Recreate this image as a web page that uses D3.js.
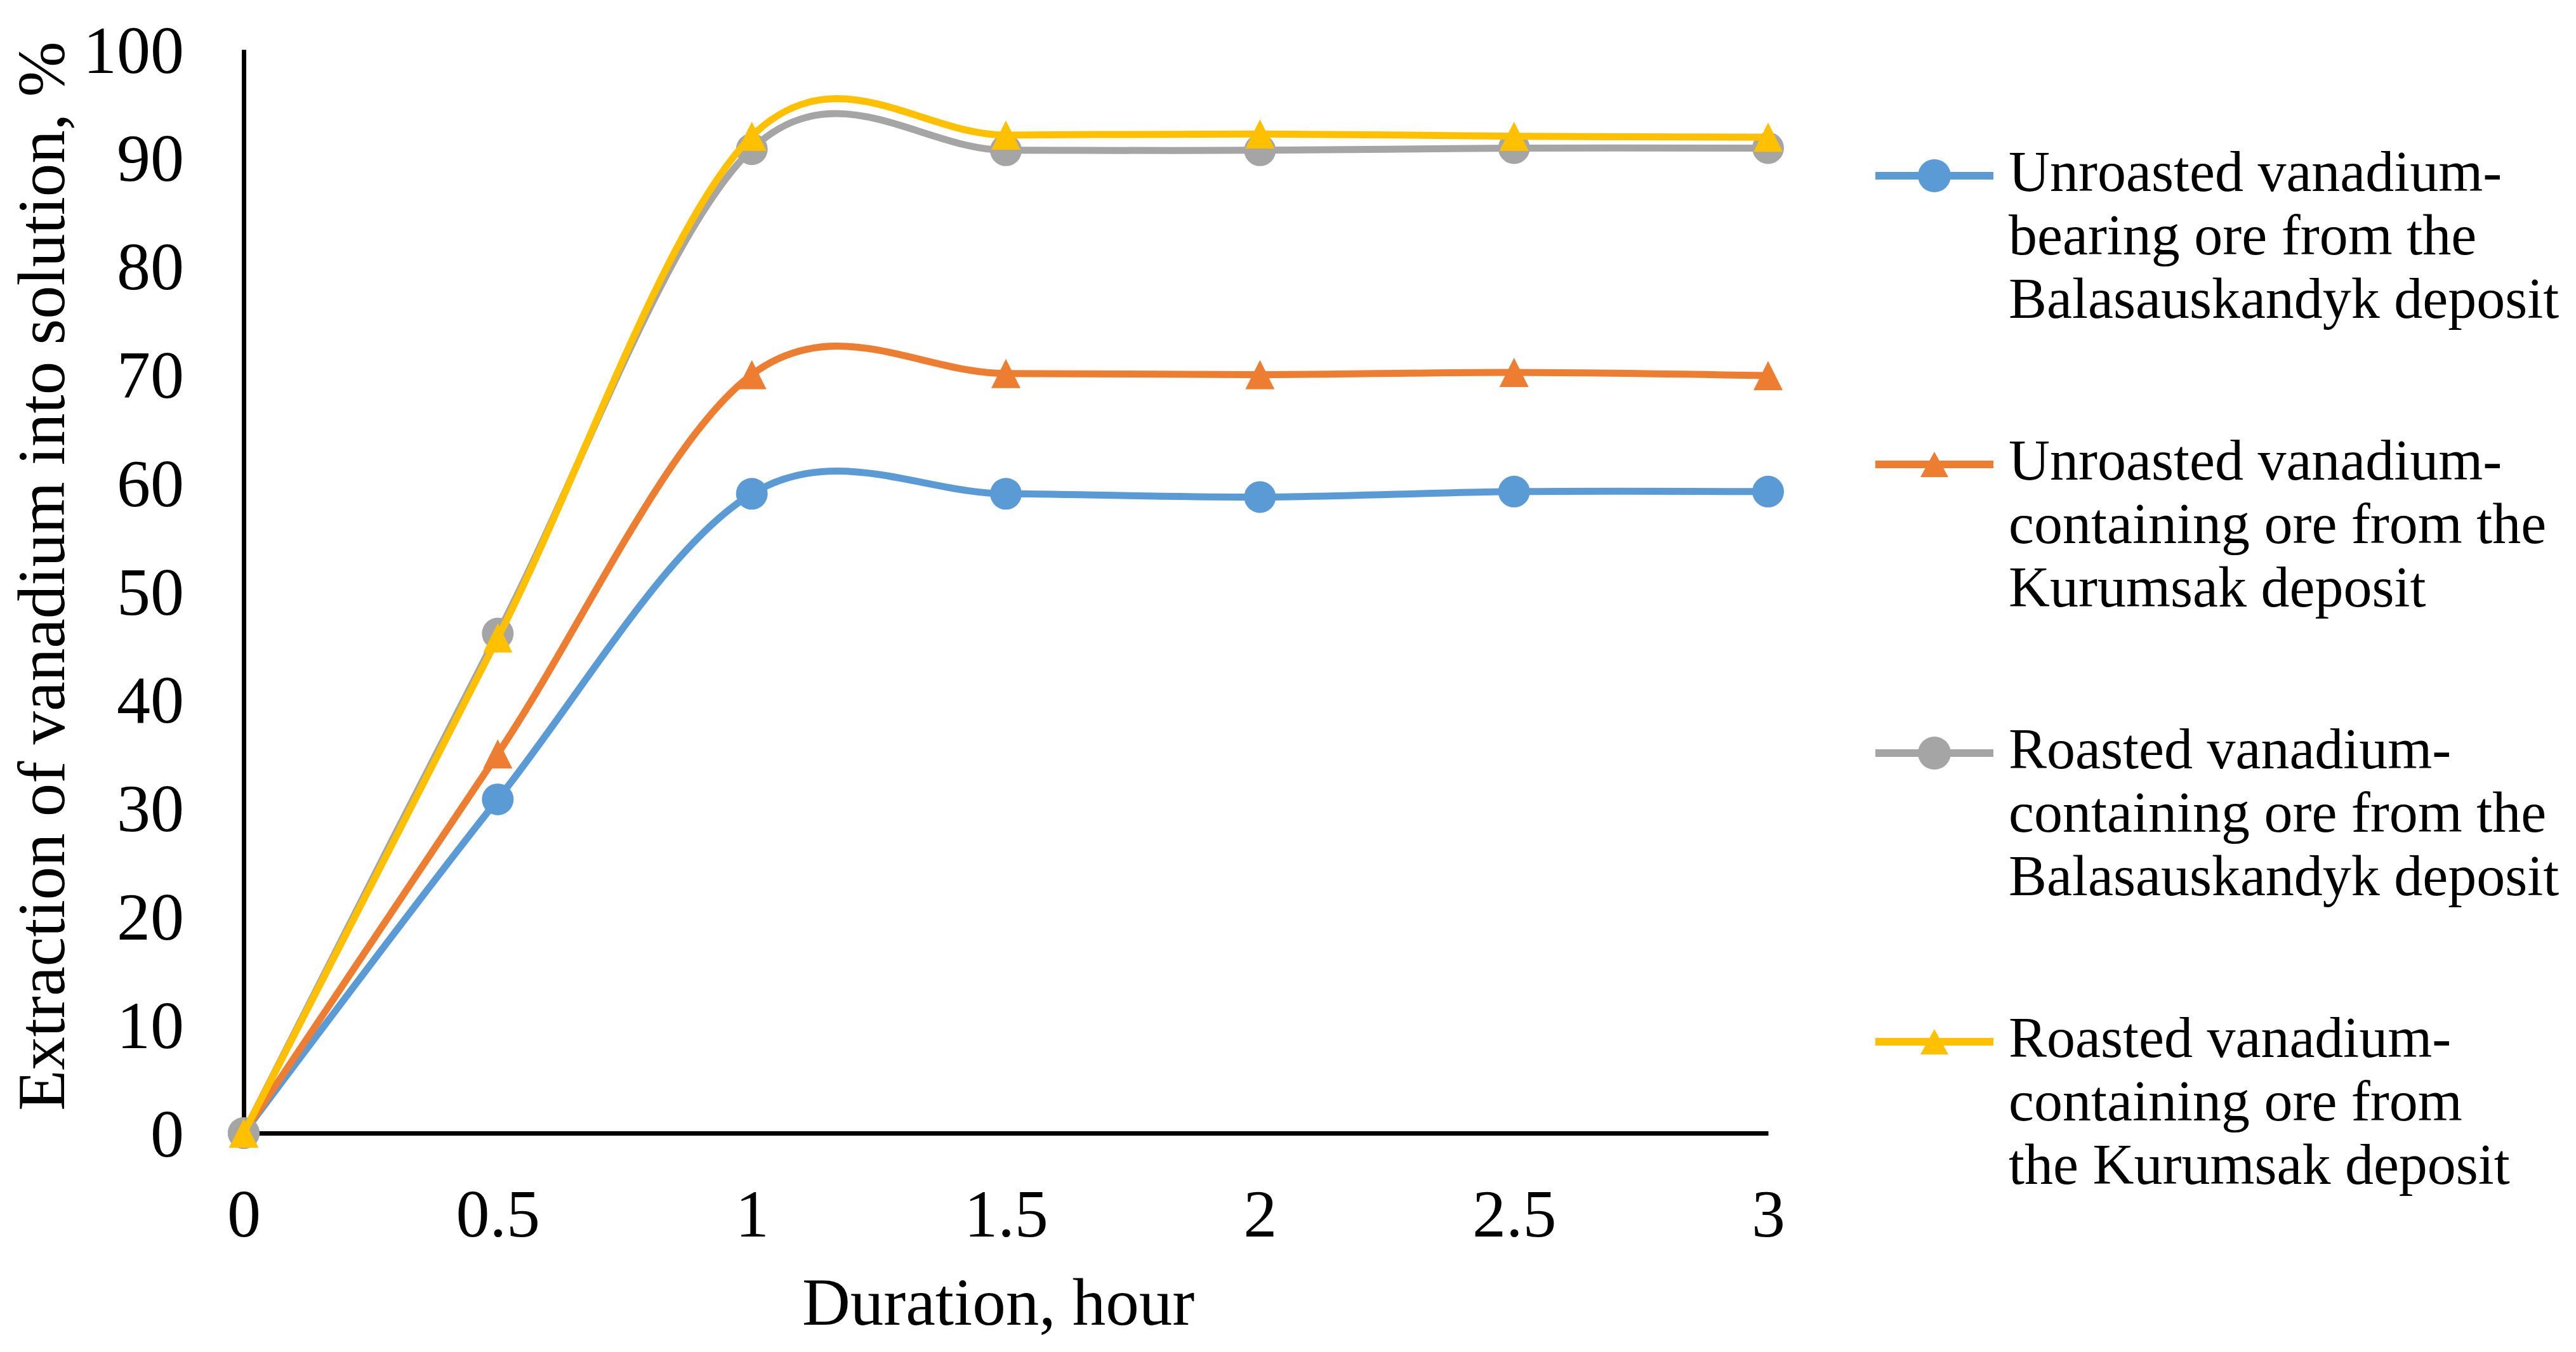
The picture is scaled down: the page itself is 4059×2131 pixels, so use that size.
<!DOCTYPE html>
<html>
<head>
<meta charset="utf-8">
<script src="https://cdn.jsdelivr.net/npm/d3@7"></script>
<style>
  body { margin: 0; background: #fff; }
  svg { display: block; font-family: "Liberation Serif", "Times New Roman", serif; }
</style>
</head>
<body>
<div class="chart"></div>
<script>
// data
const durations = [0, 0.5, 1, 1.5, 2, 2.5, 3];
const unroastedBalas = [0, 30.8, 59.0, 59.0, 58.7, 59.2, 59.2];
const unroastedKurum = [0, 35.0, 70.0, 70.1, 70.0, 70.2, 69.9];
const roastedBalas = [0, 46.1, 90.8, 90.7, 90.7, 90.9, 90.9];
const roastedKurum = [0, 45.7, 92.0, 92.1, 92.2, 92.0, 91.9];
const yTicks = [0, 10, 20, 30, 40, 50, 60, 70, 80, 90, 100];
const xTicks = [0, 0.5, 1, 1.5, 2, 2.5, 3];

const legendLabels = [
  ["Unroasted vanadium-", "bearing ore from the", "Balasauskandyk deposit"],
  ["Unroasted vanadium-", "containing ore from the", "Kurumsak deposit"],
  ["Roasted vanadium-", "containing ore from the", "Balasauskandyk deposit"],
  ["Roasted vanadium-", "containing ore from", "the Kurumsak deposit"]
];

const series = [
  {values: unroastedBalas, color: "#5B9BD5", marker: "circle"},
  {values: unroastedKurum, color: "#ED7D31", marker: "triangle"},
  {values: roastedBalas, color: "#A5A5A5", marker: "circle"},
  {values: roastedKurum, color: "#FFC000", marker: "triangle"}
];

const svgWidth = 4059;
const svgHeight = 2131;

const svg = d3.select(".chart")
  .append("svg")
  .attr("width", svgWidth)
  .attr("height", svgHeight);

svg.append("rect").attr("width", svgWidth).attr("height", svgHeight).attr("fill", "#fff");

const x = d3.scaleLinear().domain([0, 3]).range([384, 2786]);
const y = d3.scaleLinear().domain([0, 100]).range([1786, 78]);

// axes
const xAxis = svg.append("g")
  .attr("transform", `translate(0,${y(0)})`)
  .call(d3.axisBottom(x).tickValues(xTicks).tickSize(0).tickSizeOuter(0).tickFormat(d => String(d)));

const yAxis = svg.append("g")
  .attr("transform", `translate(${x(0)},0)`)
  .call(d3.axisLeft(y).tickValues(yTicks).tickSize(0).tickSizeOuter(0));

[xAxis, yAxis].forEach(a => {
  a.select(".domain").attr("stroke", "#000").attr("stroke-width", 7);
  a.selectAll("text")
    .attr("fill", "#000")
    .style("font-family", "'Liberation Serif', 'Times New Roman', serif")
    .style("font-size", "106px");
});

xAxis.selectAll("text").attr("y", 163).attr("dy", null);
yAxis.selectAll("text").attr("x", -94).attr("dy", "0.34em");

// axis titles
svg.append("text")
  .attr("transform", `translate(101,908) rotate(-90)`)
  .attr("text-anchor", "middle")
  .style("font-size", "105px")
  .attr("fill", "#000")
  .text("Extraction of vanadium into solution, %");

svg.append("text")
  .attr("x", 1573)
  .attr("y", 2088)
  .attr("text-anchor", "middle")
  .style("font-size", "105px")
  .attr("fill", "#000")
  .text("Duration, hour");

// smoothed lines like Excel
const line = d3.line()
  .x((d, i) => x(durations[i]))
  .y(d => y(d))
  .curve(d3.curveCardinal.tension(0));

function trianglePath(w, h) {
  return `M0,${-h / 2}L${w / 2},${h / 2}L${-w / 2},${h / 2}Z`;
}

function drawMarker(g, type, color, cx, cy) {
  if (type === "circle") {
    g.append("circle").attr("cx", cx).attr("cy", cy).attr("r", 25).attr("fill", color);
  } else {
    g.append("path")
      .attr("d", trianglePath(46, 46))
      .attr("transform", `translate(${cx},${cy})`)
      .attr("fill", color);
  }
}

series.forEach(s => {
  const g = svg.append("g");
  g.append("path")
    .attr("d", line(s.values))
    .attr("fill", "none")
    .attr("stroke", s.color)
    .attr("stroke-width", 11)
    .attr("stroke-linejoin", "round")
    .attr("stroke-linecap", "round");
  s.values.forEach((v, i) => drawMarker(g, s.marker, s.color, x(durations[i]), y(v)));
});

// legend
const legendY = [277, 732, 1187, 1642];
const legend = svg.append("g");
series.forEach((s, i) => {
  const ly = legendY[i];
  legend.append("line")
    .attr("x1", 2955).attr("x2", 3141)
    .attr("y1", ly).attr("y2", ly)
    .attr("stroke", s.color)
    .attr("stroke-width", 12);
  if (s.marker === "circle") {
    legend.append("circle").attr("cx", 3048).attr("cy", ly).attr("r", 26).attr("fill", s.color);
  } else {
    legend.append("path")
      .attr("d", trianglePath(44, 40))
      .attr("transform", `translate(3048,${ly})`)
      .attr("fill", s.color);
  }
  const t = legend.append("text")
    .attr("x", 3165)
    .attr("y", ly + 24)
    .style("font-size", "90px")
    .attr("fill", "#000");
  legendLabels[i].forEach((txt, j) => {
    t.append("tspan").attr("x", 3165).attr("dy", j === 0 ? 0 : 100).text(txt);
  });
});
</script>
</body>
</html>
